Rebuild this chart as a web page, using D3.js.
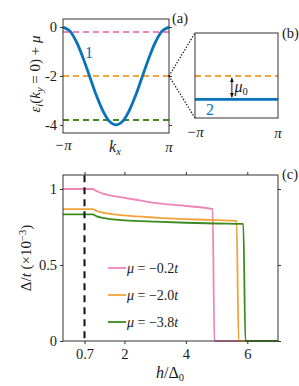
<!DOCTYPE html>
<html>
<head>
<meta charset="utf-8">
<script src="https://cdn.jsdelivr.net/npm/d3@7"></script>
<style>
  body { margin: 0; background: #fff; }
  svg { font-family: "Liberation Serif", "DejaVu Serif", serif; }
</style>
</head>
<body>
<div id="chart"></div>
<script>
// ---- data ----
const PI = Math.PI;
// band 1 along k_x (panel a)
let kx = [-PI, -7*PI/8, -3*PI/4, -5*PI/8, -PI/2, -3*PI/8, -PI/4, -PI/8, 0,
          PI/8, PI/4, 3*PI/8, PI/2, 5*PI/8, 3*PI/4, 7*PI/8, PI];
let band1 = [0, -0.15, -0.59, -1.24, -2, -2.77, -3.41, -3.85, -4,
             -3.85, -3.41, -2.77, -2, -1.24, -0.59, -0.15, 0];
// chemical potentials (dashed lines)
let muLevels = [-0.2, -2.0, -3.8];
let muColors = ["#ee84b8", "#f2a33a", "#3c8a1e"];
let muLabels = ["\u22120.2", "\u22122.0", "\u22123.8"];
// band 2 level in panel b
let band2 = -2.3;

// panel c: gap vs field
let hPink = [0, 0.96, 1.1, 1.3, 1.6, 2, 2.5, 3, 4, 4.87, 4.93, 7];
let dPink = [1.0, 1.0, 0.985, 0.97, 0.955, 0.942, 0.925, 0.908, 0.888, 0.868, 0, 0];
let hOrange = [0, 0.96, 1.1, 1.3, 1.6, 2, 3, 4, 5, 5.65, 5.72, 7];
let dOrange = [0.868, 0.868, 0.855, 0.845, 0.835, 0.826, 0.812, 0.802, 0.795, 0.79, 0, 0];
let hGreen = [0, 0.96, 1.1, 1.3, 1.6, 2, 3, 4, 5, 5.87, 5.94, 7];
let dGreen = [0.833, 0.833, 0.82, 0.81, 0.80, 0.794, 0.785, 0.778, 0.773, 0.77, 0, 0];
let hTicks = [0.7, 2, 4, 6];
let dTicks = [0, 0.5, 1];
let hCritical = 0.7;

const W = 299, H = 386;
const axisCol = "#333";
const txtCol = "#1a1a1a";
const blue = "#0a72ba";

let svg = d3.select("#chart").append("svg")
  .attr("width", W).attr("height", H)
  .attr("fill", txtCol);

function box(g, x0, y0, x1, y1) {
  g.append("rect")
    .attr("x", x0).attr("y", y0)
    .attr("width", x1 - x0).attr("height", y1 - y0)
    .attr("fill", "none").attr("stroke", axisCol).attr("stroke-width", 1);
}
function styleAxis(g) {
  g.select(".domain").remove();
  g.attr("font-family", null).attr("font-size", null);
  g.selectAll("line").attr("stroke", axisCol);
  g.selectAll("text")
    .attr("font-size", 14.5).attr("fill", txtCol);
}

// ================= panel (a) =================
let xA = d3.scaleLinear().domain([-PI, PI]).range([63, 169]);
let yA = d3.scaleLinear().domain([-4.33, 0.33]).range([133, 19]);

let gA = svg.append("g");
// dashed mu lines
muLevels.forEach(function (m, i) {
  gA.append("line")
    .attr("x1", xA(-PI)).attr("x2", xA(PI))
    .attr("y1", yA(m)).attr("y2", yA(m))
    .attr("stroke", muColors[i]).attr("stroke-width", 2)
    .attr("stroke-dasharray", "6,4");
});
// band 1
let lineA = d3.line()
  .x(function (d, i) { return xA(kx[i]); })
  .y(function (d) { return yA(d); })
  .curve(d3.curveCatmullRom);
gA.append("path").datum(band1)
  .attr("d", lineA)
  .attr("fill", "none").attr("stroke", blue).attr("stroke-width", 2.8);

box(gA, 63, 19, 169, 133);

let axA = gA.append("g").attr("transform", "translate(63,0)")
  .call(d3.axisLeft(yA).tickValues([0, -2, -4]).tickSize(3).tickPadding(3)
    .tickFormat(function (d) { return d == 0 ? "0" : "-" + Math.abs(d); }));
styleAxis(axA);
let axA2 = gA.append("g").attr("transform", "translate(169,0)")
  .call(d3.axisRight(yA).tickValues([0, -2, -4]).tickSize(3).tickFormat(""));
styleAxis(axA2);

gA.append("text").attr("x", xA(-PI)).attr("y", 150)
  .attr("text-anchor", "middle").attr("font-size", 15).text("\u2212\u03c0")
  .attr("font-style", "italic");
gA.append("text").attr("x", xA(PI)).attr("y", 152)
  .attr("text-anchor", "middle").attr("font-size", 15).text("\u03c0")
  .attr("font-style", "italic");
let kxLab = gA.append("text").attr("x", 115).attr("y", 152)
  .attr("text-anchor", "middle").attr("font-size", 16).attr("font-style", "italic");
kxLab.append("tspan").text("k");
kxLab.append("tspan").attr("font-size", 10.5).attr("dy", 3).text("x");

// y label
let ylA = gA.append("text")
  .attr("transform", "translate(40,74) rotate(-90)")
  .attr("text-anchor", "middle").attr("font-size", 15);
ylA.append("tspan").attr("font-style", "italic").text("\u03b5");
ylA.append("tspan").attr("font-style", "italic").attr("font-size", 10.5).attr("dy", 3).text("i");
ylA.append("tspan").attr("dy", -3).text("(");
ylA.append("tspan").attr("font-style", "italic").text("k");
ylA.append("tspan").attr("font-style", "italic").attr("font-size", 10.5).attr("dy", 3).text("y");
ylA.append("tspan").attr("dy", -3).text(" = 0) + ");
ylA.append("tspan").attr("font-style", "italic").text("\u03bc");

gA.append("text").attr("x", xA(-1.6)).attr("y", yA(-1.25))
  .attr("text-anchor", "middle").attr("font-size", 16)
  .attr("fill", blue).text("1");
gA.append("text").attr("x", 172).attr("y", 23).attr("font-size", 14.5).text("(a)");

// ================= panel (b) =================
let xB = d3.scaleLinear().domain([-PI, PI]).range([195, 278]);
let yB = d3.scaleLinear().domain([-2.54, -1.45]).range([118, 33]);
let gB = svg.append("g");

// dotted zoom lines from panel a
[-1.45, -2.54].forEach(function (v) {
  gB.append("line")
    .attr("x1", xA(PI)).attr("y1", yA(-2))
    .attr("x2", xB(-PI)).attr("y2", yB(v))
    .attr("stroke", "#111").attr("stroke-width", 1.3)
    .attr("stroke-dasharray", "1.3,1.7");
});
gB.append("line")
  .attr("x1", xB(-PI)).attr("x2", xB(PI))
  .attr("y1", yB(-2)).attr("y2", yB(-2))
  .attr("stroke", muColors[1]).attr("stroke-width", 2)
  .attr("stroke-dasharray", "6,4");
gB.append("line")
  .attr("x1", xB(-PI)).attr("x2", xB(PI))
  .attr("y1", yB(band2)).attr("y2", yB(band2))
  .attr("stroke", blue).attr("stroke-width", 2.8);
box(gB, 195, 33, 278, 118);

// double arrow mu0
let defs = svg.append("defs");
defs.append("marker").attr("id", "ah")
  .attr("viewBox", "0 0 10 10").attr("refX", 9).attr("refY", 5)
  .attr("markerWidth", 5).attr("markerHeight", 5)
  .attr("orient", "auto-start-reverse")
  .append("path").attr("d", "M0,1 L10,5 L0,9 z").attr("fill", "#111");
gB.append("line")
  .attr("x1", xB(-0.35)).attr("x2", xB(-0.35))
  .attr("y1", yB(-2) + 2).attr("y2", yB(band2) - 2)
  .attr("stroke", "#111").attr("stroke-width", 1)
  .attr("marker-start", "url(#ah)").attr("marker-end", "url(#ah)");
let mu0 = gB.append("text").attr("x", xB(-0.15)).attr("y", yB(-2.21))
  .attr("font-size", 16).attr("font-style", "italic");
mu0.append("tspan").text("\u03bc");
mu0.append("tspan").attr("font-size", 10.5).attr("dy", 3).attr("font-style", "normal").text("0");

gB.append("text").attr("x", xB(-2.0)).attr("y", yB(-2.5))
  .attr("text-anchor", "middle").attr("font-size", 16)
  .attr("fill", blue).text("2");
gB.append("text").attr("x", xB(-PI)).attr("y", 137)
  .attr("text-anchor", "middle").attr("font-size", 15).attr("font-style", "italic")
  .text("\u2212\u03c0");
gB.append("text").attr("x", xB(PI)).attr("y", 138)
  .attr("text-anchor", "middle").attr("font-size", 15).attr("font-style", "italic")
  .text("\u03c0");
gB.append("text").attr("x", 282).attr("y", 38).attr("font-size", 14.5).text("(b)");

// ================= panel (c) =================
let xC = d3.scaleLinear().domain([0, 7]).range([63, 278]);
let yC = d3.scaleLinear().domain([0, 1.092]).range([341, 175]);
let gC = svg.append("g");

let series = [
  { h: hPink, d: dPink },
  { h: hOrange, d: dOrange },
  { h: hGreen, d: dGreen }
];
series.forEach(function (s, i) {
  let pts = s.h.map(function (h, j) { return [h, s.d[j]]; });
  gC.append("path").datum(pts)
    .attr("d", d3.line()
      .x(function (p) { return xC(p[0]); })
      .y(function (p) { return yC(p[1]); })
      .curve(d3.curveMonotoneX))
    .attr("fill", "none").attr("stroke", muColors[i]).attr("stroke-width", 1.8);
});

// critical field dashed line
gC.append("line")
  .attr("x1", xC(hCritical)).attr("x2", xC(hCritical))
  .attr("y1", yC(1.09)).attr("y2", yC(0))
  .attr("stroke", "#111").attr("stroke-width", 2)
  .attr("stroke-dasharray", "7,5");

box(gC, 63, 175, 278, 341);

let axC1 = gC.append("g").attr("transform", "translate(0,341)")
  .call(d3.axisBottom(xC).tickValues(hTicks).tickSize(3).tickPadding(5)
    .tickFormat(function (d) { return d; }));
styleAxis(axC1);
let axC2 = gC.append("g").attr("transform", "translate(0,175)")
  .call(d3.axisTop(xC).tickValues(hTicks).tickSize(3).tickFormat(""));
styleAxis(axC2);
let axC3 = gC.append("g").attr("transform", "translate(63,0)")
  .call(d3.axisLeft(yC).tickValues(dTicks).tickSize(3).tickPadding(3)
    .tickFormat(function (d) { return d; }));
styleAxis(axC3);
let axC4 = gC.append("g").attr("transform", "translate(278,0)")
  .call(d3.axisRight(yC).tickValues(dTicks).tickSize(3).tickFormat(""));
styleAxis(axC4);

// legend
muLabels.forEach(function (lab, i) {
  let y = 268 + i * 27;
  gC.append("line").attr("x1", 108).attr("x2", 126)
    .attr("y1", y).attr("y2", y)
    .attr("stroke", muColors[i]).attr("stroke-width", 1.8);
  let t = gC.append("text").attr("x", 127).attr("y", y + 4.5).attr("font-size", 14);
  t.append("tspan").attr("font-style", "italic").text("\u03bc");
  t.append("tspan").text(" = " + lab);
  t.append("tspan").attr("font-style", "italic").text("t");
});

// axis labels
let xlC = gC.append("text").attr("x", 170).attr("y", 378)
  .attr("text-anchor", "middle").attr("font-size", 16);
xlC.append("tspan").attr("font-style", "italic").text("h");
xlC.append("tspan").text("/\u0394");
xlC.append("tspan").attr("font-size", 10.5).attr("dy", 3).text("0");

let ylC = gC.append("text")
  .attr("transform", "translate(31,258) rotate(-90)")
  .attr("text-anchor", "middle").attr("font-size", 15);
ylC.append("tspan").text("\u0394/");
ylC.append("tspan").attr("font-style", "italic").text("t");
ylC.append("tspan").text(" (\u00d710");
ylC.append("tspan").attr("font-size", 10.5).attr("dy", -5).text("\u22123");
ylC.append("tspan").attr("dy", 5).text(")");

gC.append("text").attr("x", 282).attr("y", 179).attr("font-size", 14.5).text("(c)");
</script>
</body>
</html>
